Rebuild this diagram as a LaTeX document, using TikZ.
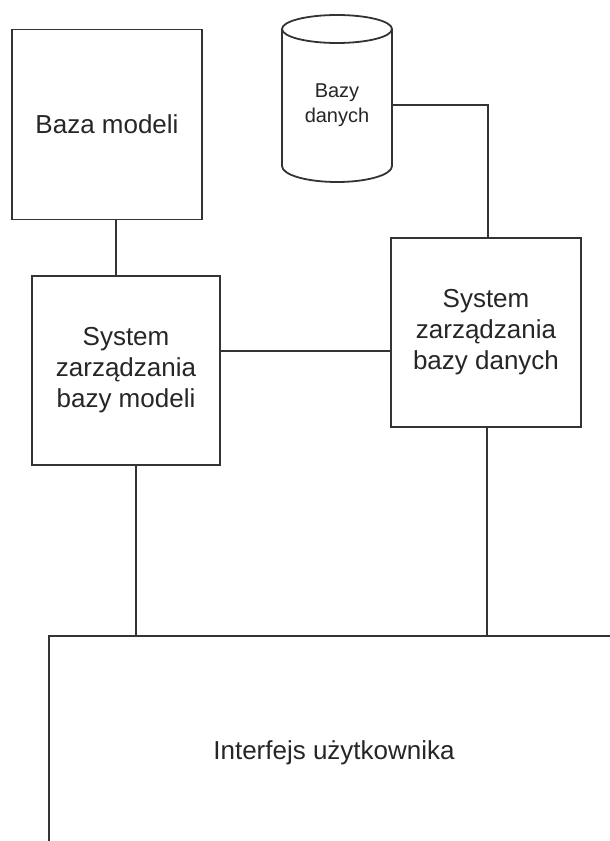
\documentclass[tikz,border=0pt]{standalone}
\usepackage{fontspec}
\setmainfont{Liberation Sans}
\begin{document}
\begin{tikzpicture}[x=1pt,y=-1pt,
  line width=1.8pt,
  every node/.style={text=black!85},
  boxnode/.style={draw=black!80, inner sep=0pt, align=center, font=\fontsize{26}{31}\selectfont},
  conn/.style={draw=black!80, line width=1.8pt}]
\useasboundingbox (0,0) rectangle (610,841);
\clip (0,0) rectangle (610,841);
\fill[white] (0,0) rectangle (610,841);
% boxes
\node[boxnode, minimum width=190pt, minimum height=190pt] (bm) at (107,124.5) {Baza modeli};
\node[boxnode, minimum width=188pt, minimum height=189pt] (szbm) at (126,370.5) {System\\zarządzania\\bazy modeli};
\node[boxnode, minimum width=190pt, minimum height=189pt] (szbd) at (486,332.5) {System\\zarządzania\\bazy danych};
\node[boxnode, minimum width=570pt, minimum height=234pt] (ui) at (334,753) {Interfejs użytkownika};
% database cylinder
\node[inner sep=0pt, minimum width=110pt, minimum height=167pt] (db) at (337,98.5) {};
\draw[draw=black!80] (282,29) -- (282,166) arc[start angle=180, end angle=360, x radius=55, y radius=-16]
      -- (392,29);
\draw[draw=black!80] (337,29) ellipse[x radius=55, y radius=14];
\node[font=\fontsize{20}{25}\selectfont, align=center, inner sep=0pt] (dbtext) at (337,105.5) {Bazy\\danych};
% connector coordinates
\coordinate (c1a) at (116,220);
\coordinate (c1b) at (116,276);
\coordinate (c2a) at (392,105);
\coordinate (c2b) at (488,105);
\coordinate (c2c) at (488,238);
\coordinate (c3a) at (220,351);
\coordinate (c3b) at (391,351);
\coordinate (c4a) at (136,465);
\coordinate (c4b) at (136,636);
\coordinate (c5a) at (487,427);
\coordinate (c5b) at (487,636);
% connectors
\draw[conn] (c1a |- bm.south) -- (c1b |- szbm.north);
\draw[conn] (db.east |- c2a) -- (c2b) -- (c2c |- szbd.north);
\draw[conn] (szbm.east |- c3a) -- (szbd.west |- c3b);
\draw[conn] (c4a |- szbm.south) -- (c4b |- ui.north);
\draw[conn] (c5a |- szbd.south) -- (c5b |- ui.north);
\end{tikzpicture}
\end{document}
